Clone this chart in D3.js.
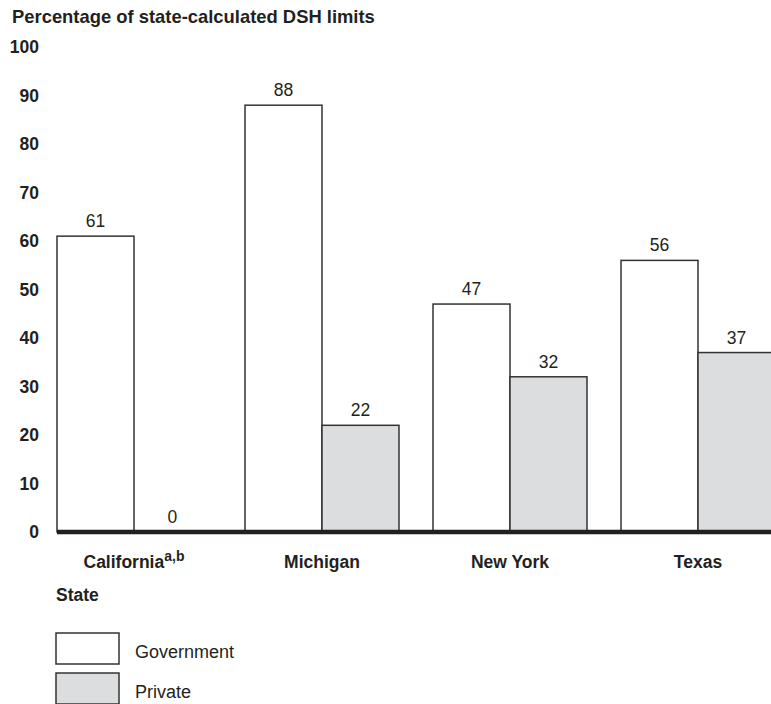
<!DOCTYPE html>
<html>
<head>
<meta charset="utf-8">
<script src="https://cdn.jsdelivr.net/npm/d3@7"></script>
<style>
  html, body { margin: 0; padding: 0; background: #fff; }
  svg { display: block; font-family: "Liberation Sans", Arial, Helvetica, sans-serif; }
</style>
</head>
<body>
<svg id="chart" width="771" height="704"></svg>
<script>
// Data: share of state-calculated DSH limits paid, by ownership
const states = ["California", "Michigan", "New York", "Texas"];
const stateNotes = ["a,b", "", "", ""];
const series = ["Government", "Private"];
const government = [61, 88, 47, 56];
const privateVals = [0, 22, 32, 37];
const yTicks = [0, 10, 20, 30, 40, 50, 60, 70, 80, 90, 100];

const ink = "#231f20";
const fills = { Government: "#ffffff", Private: "#dcdddf" };

const svg = d3.select("#chart");

const x0 = d3.scaleBand().domain(states).range([57, 775]).paddingInner(0.181).paddingOuter(0);
const x1 = d3.scaleBand().domain(series).range([0, x0.bandwidth()]).padding(0);
const y = d3.scaleLinear().domain([0, 100]).range([532, 47]);

const rows = states.map((s, i) => ({
  state: s,
  values: [
    { key: "Government", value: government[i] },
    { key: "Private", value: privateVals[i] }
  ]
}));

// Title
svg.append("text")
  .attr("x", 12).attr("y", 23)
  .attr("font-size", 18.4).attr("font-weight", "bold").attr("fill", ink)
  .text("Percentage of state-calculated DSH limits");

// Y axis labels (no axis line)
const yAxis = d3.axisLeft(y).tickValues(yTicks).tickSize(0).tickPadding(0);
const gy = svg.append("g").attr("transform", "translate(39,0)").call(yAxis);
gy.select(".domain").remove();
gy.selectAll("text")
  .attr("font-size", 17.5).attr("font-weight", "bold")
  .attr("fill", ink).attr("font-family", "Liberation Sans, Arial, sans-serif");

// Bars
const groups = svg.append("g").selectAll("g")
  .data(rows).join("g")
  .attr("transform", d => `translate(${x0(d.state)},0)`);

groups.selectAll("rect")
  .data(d => d.values).join("rect")
  .attr("x", d => x1(d.key))
  .attr("y", d => y(d.value))
  .attr("width", x1.bandwidth())
  .attr("height", d => y(0) - y(d.value))
  .attr("fill", d => fills[d.key])
  .attr("stroke", "#333")
  .attr("stroke-width", 1.5);

groups.selectAll("text.val")
  .data(d => d.values).join("text")
  .attr("class", "val")
  .attr("x", d => x1(d.key) + x1.bandwidth() / 2)
  .attr("y", d => y(d.value) - 9)
  .attr("text-anchor", "middle")
  .attr("font-size", 17.5).attr("fill", ink)
  .text(d => d.value);

// Baseline
svg.append("line")
  .attr("x1", 57).attr("x2", 771)
  .attr("y1", y(0)).attr("y2", y(0))
  .attr("stroke", ink).attr("stroke-width", 4.5);

// Category labels
const cat = svg.append("g").selectAll("text")
  .data(states).join("text")
  .attr("x", d => x0(d) + x0.bandwidth() / 2)
  .attr("y", 568)
  .attr("text-anchor", "middle")
  .attr("font-size", 17.5).attr("font-weight", "bold").attr("fill", ink);
cat.append("tspan").text(d => d);
cat.filter((d, i) => stateNotes[i] !== "")
  .append("tspan")
  .attr("font-size", 14).attr("dy", -7)
  .text(d => stateNotes[states.indexOf(d)]);

// Axis title
svg.append("text")
  .attr("x", 56).attr("y", 601)
  .attr("font-size", 17.5).attr("font-weight", "bold").attr("fill", ink)
  .text("State");

// Legend
const legend = svg.append("g").selectAll("g")
  .data(series).join("g")
  .attr("transform", (d, i) => `translate(56,${633 + i * 40})`);
legend.append("rect")
  .attr("width", 63).attr("height", 31)
  .attr("fill", d => fills[d]).attr("stroke", "#333").attr("stroke-width", 1.5);
legend.append("text")
  .attr("x", 79).attr("y", 25)
  .attr("font-size", 18).attr("fill", ink)
  .text(d => d);
</script>
</body>
</html>
